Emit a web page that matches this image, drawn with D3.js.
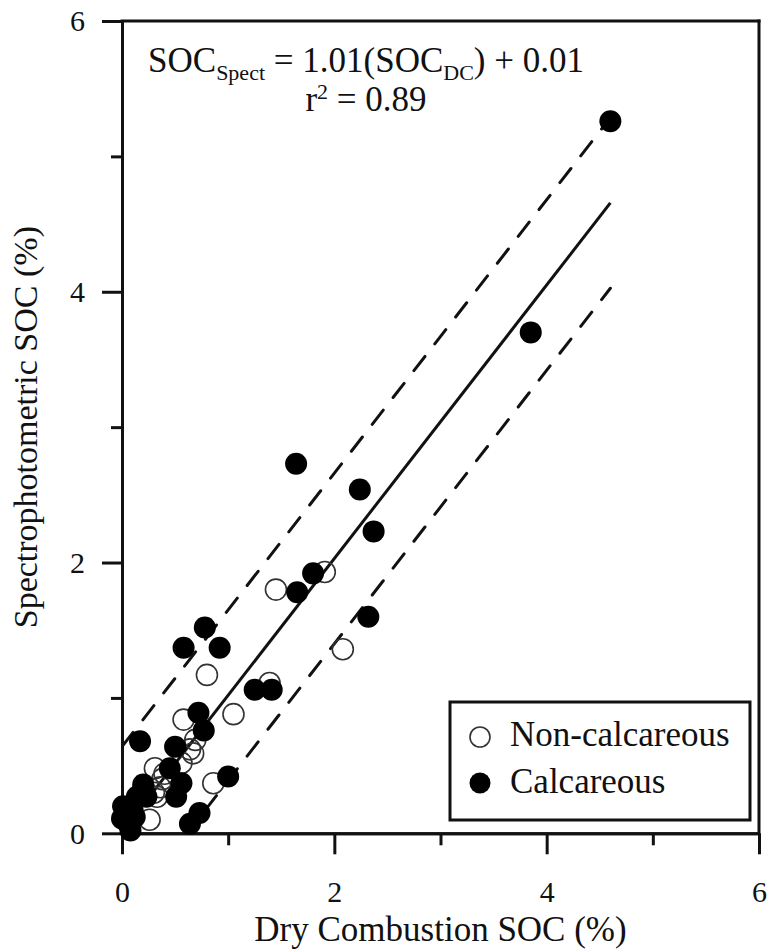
<!DOCTYPE html>
<html>
<head>
<meta charset="utf-8">
<script src="https://cdn.jsdelivr.net/npm/d3@7"></script>
<style>
  html, body { margin: 0; padding: 0; background: #fff; }
  svg { display: block; }
  text { font-family: "Liberation Serif", "Times New Roman", serif; fill: #111; }
</style>
</head>
<body>
<svg id="chart" width="768" height="951"></svg>
<script>
// ---- data ----
const calcareous = [
  [4.60, 5.26], [3.85, 3.70], [1.64, 2.73], [2.24, 2.54], [2.37, 2.23],
  [1.80, 1.92], [1.65, 1.78], [2.32, 1.60], [0.58, 1.37], [0.92, 1.37],
  [0.78, 1.52], [1.25, 1.06], [1.41, 1.06], [0.72, 0.89], [0.77, 0.76],
  [0.17, 0.68], [0.50, 0.64], [0.45, 0.48], [1.00, 0.42], [0.56, 0.37],
  [0.20, 0.36], [0.51, 0.27], [0.73, 0.15], [0.64, 0.07], [0.01, 0.20],
  [0.00, 0.11], [0.08, 0.02], [0.14, 0.27], [0.23, 0.27], [0.10, 0.17],
  [0.05, 0.08], [0.12, 0.12], [0.20, 0.33]
];
const nonCalcareous = [
  [1.91, 1.93], [1.45, 1.80], [2.08, 1.36], [0.80, 1.17], [1.39, 1.11],
  [1.05, 0.88], [0.58, 0.84], [0.69, 0.69], [0.67, 0.59], [0.64, 0.62],
  [0.56, 0.52], [0.31, 0.48], [0.40, 0.44], [0.36, 0.34], [0.33, 0.27],
  [0.86, 0.37], [0.26, 0.10], [0.30, 0.30], [0.38, 0.40]
];
const majorTicks = [0, 2, 4, 6];
const minorTicks = [1, 3, 5];
const regSlope = 1.01, regIntercept = 0.01, bandHalfWidth = 0.63;
const fitRange = [0, 4.6];
const xTitle = "Dry Combustion SOC (%)";
const yTitle = "Spectrophotometric SOC (%)";
const legendLabels = ["Non-calcareous", "Calcareous"];

// ---- layout ----
const svg = d3.select("#chart");
const x = d3.scaleLinear().domain([0, 6]).range([122, 759]);
const y = d3.scaleLinear().domain([0, 6]).range([833.3, 21]);
const ink = "#111";

svg.append("clipPath").attr("id", "plotclip")
  .append("rect").attr("x", x(0)).attr("y", y(6)).attr("width", x(6) - x(0)).attr("height", y(0) - y(6));

// frame (top, right)
svg.append("line").attr("x1", x(0)).attr("x2", x(6)).attr("y1", y(6)).attr("y2", y(6))
  .attr("stroke", ink).attr("stroke-width", 3).attr("stroke-linecap", "square");
svg.append("line").attr("x1", x(6)).attr("x2", x(6)).attr("y1", y(6)).attr("y2", y(0))
  .attr("stroke", ink).attr("stroke-width", 3).attr("stroke-linecap", "square");

function styleAxis(g) {
  g.select(".domain").attr("stroke", ink).attr("stroke-width", 3);
  g.selectAll(".tick line").attr("stroke", ink).attr("stroke-width", 3);
  g.selectAll(".tick text").style("font-family", '"Liberation Serif", "Times New Roman", serif')
    .style("font-size", "30px").attr("fill", ink);
}

// y axis
const yMaj = svg.append("g").attr("transform", `translate(${x(0)},0)`)
  .call(d3.axisLeft(y).tickValues(majorTicks).tickSize(20).tickSizeOuter(0).tickPadding(17).tickFormat(d3.format("d")));
styleAxis(yMaj);
yMaj.selectAll(".tick text").attr("dy", "0.33em");
const yMin = svg.append("g").attr("transform", `translate(${x(0)},0)`)
  .call(d3.axisLeft(y).tickValues(minorTicks).tickSize(11).tickSizeOuter(0).tickFormat(""));
styleAxis(yMin);

// x axis
const xMaj = svg.append("g").attr("transform", `translate(0,${y(0)})`)
  .call(d3.axisBottom(x).tickValues(majorTicks).tickSize(21).tickSizeOuter(0).tickPadding(26).tickFormat(d3.format("d")));
styleAxis(xMaj);
const xMin = svg.append("g").attr("transform", `translate(0,${y(0)})`)
  .call(d3.axisBottom(x).tickValues(minorTicks).tickSize(12).tickSizeOuter(0).tickFormat(""));
styleAxis(xMin);

// axis titles
svg.append("text").attr("x", (x(0) + x(6)) / 2).attr("y", 941)
  .attr("text-anchor", "middle").style("font-size", "35px").text(xTitle);
svg.append("text").attr("transform", `translate(37,${(y(0) + y(6)) / 2}) rotate(-90)`)
  .attr("text-anchor", "middle").style("font-size", "34px").text(yTitle);

// regression + prediction band
const lineGen = d3.line().x(d => x(d[0])).y(d => y(d[1]));
const mk = off => fitRange.map(v => [v, regSlope * v + regIntercept + off]);
const lines = svg.append("g").attr("clip-path", "url(#plotclip)");
lines.append("path").attr("d", lineGen(mk(0))).attr("fill", "none")
  .attr("stroke", ink).attr("stroke-width", 3);
lines.append("path").attr("d", lineGen(mk(bandHalfWidth))).attr("fill", "none")
  .attr("stroke", ink).attr("stroke-width", 3).attr("stroke-dasharray", "18,16").attr("stroke-linecap", "round");
lines.append("path").attr("d", lineGen(mk(-bandHalfWidth))).attr("fill", "none")
  .attr("stroke", ink).attr("stroke-width", 3).attr("stroke-dasharray", "18,16").attr("stroke-linecap", "round");

// points
const R = 11;
svg.append("g").selectAll("circle").data(nonCalcareous).join("circle")
  .attr("cx", d => x(d[0])).attr("cy", d => y(d[1])).attr("r", R - 0.5)
  .attr("fill", "none").attr("stroke", "#333").attr("stroke-width", 1.6);
svg.append("g").selectAll("circle").data(calcareous).join("circle")
  .attr("cx", d => x(d[0])).attr("cy", d => y(d[1])).attr("r", R)
  .attr("fill", "#000");

// equation
const eq = svg.append("text").attr("x", 366).attr("y", 72).attr("text-anchor", "middle").style("font-size", "35px");
eq.append("tspan").text("SOC");
eq.append("tspan").attr("dy", 8).style("font-size", "22px").text("Spect");
eq.append("tspan").attr("dy", -8).text(" = 1.01(SOC");
eq.append("tspan").attr("dy", 8).style("font-size", "22px").text("DC");
eq.append("tspan").attr("dy", -8).text(") + 0.01");
const r2 = svg.append("text").attr("x", 366).attr("y", 111).attr("text-anchor", "middle").style("font-size", "35px");
r2.append("tspan").text("r");
r2.append("tspan").attr("dy", -12).style("font-size", "22px").text("2");
r2.append("tspan").attr("dy", 12).text(" = 0.89");

// legend
const lg = svg.append("g");
lg.append("rect").attr("x", 450).attr("y", 702).attr("width", 300).attr("height", 118)
  .attr("fill", "#fff").attr("stroke", ink).attr("stroke-width", 3);
lg.append("circle").attr("cx", 480).attr("cy", 737).attr("r", 10)
  .attr("fill", "none").attr("stroke", "#333").attr("stroke-width", 1.6);
lg.append("circle").attr("cx", 480).attr("cy", 783).attr("r", 10.5).attr("fill", "#000");
lg.append("text").attr("x", 510).attr("y", 746).style("font-size", "35px").text(legendLabels[0]);
lg.append("text").attr("x", 510).attr("y", 793).style("font-size", "35px").text(legendLabels[1]);
</script>
</body>
</html>
